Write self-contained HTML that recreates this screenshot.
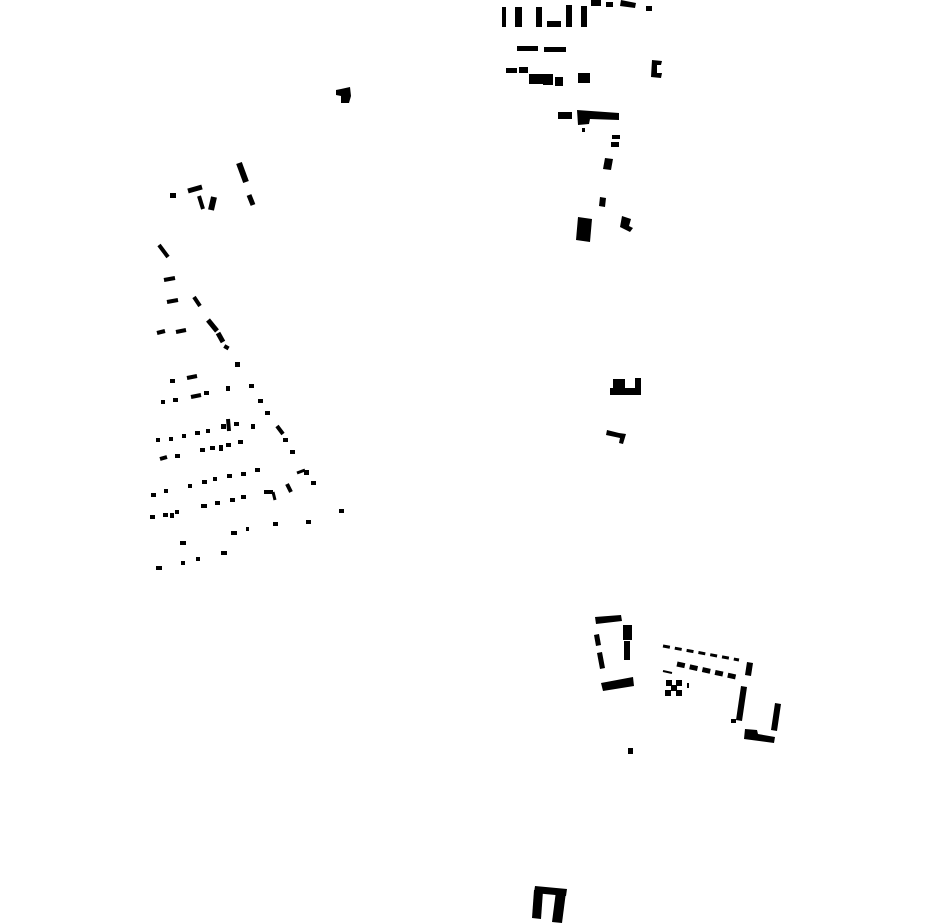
<!DOCTYPE html>
<html><head><meta charset="utf-8"><style>html,body{margin:0;padding:0;background:#fff;}svg{display:block}</style></head>
<body>
<svg width="930" height="924" viewBox="0 0 930 924" xmlns="http://www.w3.org/2000/svg">
<g stroke="#000" stroke-linecap="butt" fill="none">
<line x1="239" y1="163" x2="246" y2="182" stroke-width="6"/>
<line x1="249" y1="195" x2="253" y2="205" stroke-width="5"/>
<line x1="188" y1="191" x2="202" y2="187" stroke-width="5"/>
<line x1="199" y1="196" x2="203" y2="209" stroke-width="4"/>
<line x1="214" y1="197" x2="211" y2="210" stroke-width="6"/>
<line x1="159" y1="245" x2="168" y2="257" stroke-width="4"/>
<line x1="164" y1="280" x2="175" y2="278" stroke-width="4"/>
<line x1="167" y1="302" x2="178" y2="300" stroke-width="4"/>
<line x1="194" y1="297" x2="200" y2="306" stroke-width="4"/>
<line x1="208" y1="320" x2="217" y2="331" stroke-width="5"/>
<line x1="218" y1="333" x2="223" y2="342" stroke-width="5"/>
<line x1="157" y1="333" x2="165" y2="331" stroke-width="4"/>
<line x1="176" y1="332" x2="186" y2="330" stroke-width="4"/>
<line x1="187" y1="378" x2="197" y2="376" stroke-width="4"/>
<line x1="191" y1="397" x2="201" y2="395" stroke-width="4"/>
<line x1="277" y1="426" x2="283" y2="434" stroke-width="4"/>
<line x1="160" y1="459" x2="167" y2="457" stroke-width="4"/>
<line x1="228" y1="419" x2="229" y2="431" stroke-width="4"/>
<line x1="297" y1="473" x2="305" y2="470" stroke-width="3"/>
<line x1="287" y1="484" x2="291" y2="492" stroke-width="4"/>
<line x1="264" y1="492" x2="273" y2="492" stroke-width="4"/>
<line x1="273" y1="492" x2="275" y2="500" stroke-width="3"/>
</g>
<g fill="#000">
<polygon points="336,90 341,89 350,87 351,96 349,103 341,103 341,96 336,95"/>
<rect x="170" y="193" width="6" height="5"/>
<rect x="224" y="345" width="5" height="4" transform="rotate(30 226 347)"/>
<rect x="235" y="362" width="5" height="5"/>
<rect x="170" y="379" width="5" height="4"/>
<rect x="226" y="386" width="4" height="5"/>
<rect x="249" y="384" width="5" height="4"/>
<rect x="161" y="400" width="4" height="4"/>
<rect x="173" y="398" width="5" height="4"/>
<rect x="204" y="391" width="5" height="4"/>
<rect x="258" y="399" width="5" height="4"/>
<rect x="265" y="411" width="5" height="4"/>
<rect x="283" y="438" width="5" height="4"/>
<rect x="290" y="450" width="5" height="4"/>
<rect x="156" y="438" width="4" height="4"/>
<rect x="169" y="437" width="4" height="4"/>
<rect x="182" y="434" width="4" height="4"/>
<rect x="195" y="431" width="5" height="4"/>
<rect x="206" y="429" width="4" height="4"/>
<rect x="221" y="424" width="5" height="5"/>
<rect x="234" y="422" width="5" height="4"/>
<rect x="251" y="424" width="4" height="5"/>
<rect x="175" y="454" width="5" height="4"/>
<rect x="200" y="448" width="5" height="4"/>
<rect x="210" y="446" width="5" height="4"/>
<rect x="219" y="445" width="4" height="6"/>
<rect x="226" y="443" width="5" height="4"/>
<rect x="238" y="440" width="5" height="4"/>
<rect x="304" y="470" width="5" height="5"/>
<rect x="311" y="481" width="5" height="4"/>
<rect x="151" y="493" width="5" height="4"/>
<rect x="164" y="489" width="4" height="4"/>
<rect x="188" y="484" width="4" height="4"/>
<rect x="202" y="480" width="5" height="4"/>
<rect x="213" y="477" width="4" height="4"/>
<rect x="227" y="474" width="5" height="4"/>
<rect x="241" y="472" width="5" height="4"/>
<rect x="255" y="468" width="5" height="4"/>
<rect x="150" y="515" width="5" height="4"/>
<rect x="163" y="513" width="5" height="4"/>
<rect x="170" y="513" width="4" height="5"/>
<rect x="175" y="510" width="4" height="4"/>
<rect x="201" y="504" width="6" height="4"/>
<rect x="215" y="501" width="5" height="4"/>
<rect x="230" y="498" width="5" height="4"/>
<rect x="241" y="495" width="5" height="4"/>
<rect x="339" y="509" width="5" height="4"/>
<rect x="306" y="520" width="5" height="4"/>
<rect x="273" y="522" width="5" height="4"/>
<rect x="246" y="527" width="3" height="4"/>
<rect x="231" y="531" width="6" height="4"/>
<rect x="180" y="541" width="6" height="4"/>
<rect x="221" y="551" width="6" height="4"/>
<rect x="196" y="557" width="4" height="4"/>
<rect x="181" y="561" width="4" height="4"/>
<rect x="156" y="566" width="6" height="4"/>
<rect x="502" y="7" width="4" height="20"/>
<rect x="515" y="7" width="7" height="20"/>
<rect x="536" y="7" width="6" height="20"/>
<rect x="547" y="21" width="14" height="6"/>
<rect x="566" y="5" width="6" height="22"/>
<rect x="581" y="6" width="6" height="21"/>
<rect x="591" y="0" width="10" height="6"/>
<rect x="606" y="2" width="7" height="5"/>
<polygon points="621,0 636,3 635,8 620,6"/>
<rect x="646" y="6" width="6" height="5"/>
<rect x="517" y="46" width="21" height="5"/>
<rect x="544" y="47" width="22" height="5"/>
<rect x="506" y="68" width="11" height="5"/>
<rect x="519" y="67" width="9" height="6"/>
<rect x="529" y="74" width="14" height="10"/>
<rect x="543" y="74" width="10" height="11"/>
<rect x="555" y="77" width="8" height="9"/>
<rect x="578" y="73" width="12" height="10"/>
<polygon points="652,60 662,61 661,65 657,65 657,73 662,73 661,78 651,77"/>
<rect x="558" y="112" width="14" height="7"/>
<polygon points="577,110 619,113 619,120 590,119 589,124 578,125"/>
<rect x="582" y="128" width="3" height="4"/>
<rect x="612" y="135" width="8" height="4"/>
<rect x="611" y="142" width="8" height="5"/>
<polygon points="605,158 613,159 611,170 603,169"/>
<polygon points="600,197 606,198 605,207 599,206"/>
<polygon points="578,217 592,219 590,242 576,240"/>
<polygon points="622,216 631,219 629,226 633,228 630,232 620,227"/>
<polygon points="613,379 625,379 625,388 635,388 635,378 641,378 641,395 610,395 610,388 613,388"/>
<polygon points="607,430 619,433 626,434 623,444 619,443 620,438 606,435"/>
<polygon points="595,617 621,615 622,621 596,624"/>
<rect x="623" y="625" width="9" height="15"/>
<rect x="624" y="641" width="6" height="19"/>
<polygon points="594,635 599,634 601,645 596,646"/>
<polygon points="597,653 602,652 605,668 600,669"/>
<polygon points="601,683 633,677 634,686 603,691"/>
<rect x="628" y="748" width="5" height="6"/>
<rect x="666" y="680" width="6" height="6"/>
<rect x="676" y="680" width="6" height="6"/>
<rect x="671" y="685" width="6" height="6"/>
<rect x="665" y="690" width="6" height="6"/>
<rect x="676" y="690" width="6" height="6"/>
<rect x="687" y="683" width="2" height="5"/>
<polygon points="747,662 753,663 751,676 745,675"/>
<polygon points="741,686 747,687 742,721 736,720"/>
<rect x="731" y="719" width="5" height="4"/>
<polygon points="775,703 781,704 777,731 771,730"/>
<polygon points="745,729 757,730 758,734 775,737 774,743 744,739"/>
<polygon points="535,886 567,889 566,896 534,893"/>
<polygon points="534,890 543,891 541,919 532,918"/>
<polygon points="556,891 566,892 562,923 552,922"/>
</g>
<g stroke="#000" stroke-width="3" fill="none">
<line x1="663" y1="646" x2="739" y2="660" stroke-dasharray="7,5"/>
<line x1="677" y1="664" x2="736" y2="677" stroke-width="5" stroke-dasharray="8,5"/>
<line x1="663" y1="671" x2="672" y2="673" stroke-width="2"/>
</g>
</svg>
</body></html>
